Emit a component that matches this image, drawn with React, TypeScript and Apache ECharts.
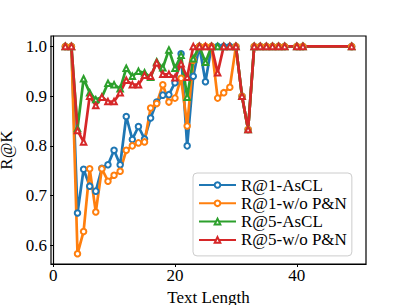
import React, { useEffect, useRef } from "react";
import * as echarts from "echarts";

const lengths = [2, 3, 4, 5, 6, 7, 8, 9, 10, 11, 12, 13, 14, 15, 16, 17, 18, 19, 20, 21, 22, 23, 24, 25, 26, 27, 28, 29, 30, 31, 32, 33, 34, 35, 36, 37, 38, 40, 41, 49];

const r1AsCL = [1.0, 1.0, 0.665, 0.753, 0.719, 0.709, 0.755, 0.762, 0.791, 0.762, 0.859, 0.813, 0.839, 0.814, 0.856, 0.888, 0.902, 0.903, 0.927, 0.985, 0.8, 0.94, 1.0, 0.929, 1.0, 1.0, 1.0, 1.0, 1.0, 0.9, 0.833, 1.0, 1.0, 1.0, 1.0, 1.0, 1.0, 1.0, 1.0, 1.0];
const r1WoPN = [1.0, 1.0, 0.583, 0.628, 0.754, 0.667, 0.754, 0.729, 0.741, 0.749, 0.791, 0.8, 0.806, 0.808, 0.876, 0.885, 0.923, 0.888, 0.896, 0.936, 0.84, 0.972, 1.0, 1.0, 1.0, 0.896, 0.907, 0.918, 1.0, 0.9, 0.833, 1.0, 1.0, 1.0, 1.0, 1.0, 1.0, 1.0, 1.0, 1.0];
const r5AsCL = [1.0, 1.0, 0.835, 0.935, 0.907, 0.893, 0.898, 0.926, 0.923, 0.915, 0.956, 0.94, 0.95, 0.947, 0.938, 0.969, 0.957, 0.993, 0.956, 0.982, 0.898, 0.975, 1.0, 0.968, 1.0, 1.0, 1.0, 1.0, 1.0, 0.9, 0.833, 1.0, 1.0, 1.0, 1.0, 1.0, 1.0, 1.0, 1.0, 1.0];
const r5WoPN = [1.0, 1.0, 0.831, 0.808, 0.9, 0.881, 0.898, 0.889, 0.889, 0.907, 0.932, 0.923, 0.923, 0.942, 0.94, 0.967, 0.944, 0.944, 0.937, 0.965, 0.938, 1.0, 1.0, 1.0, 1.0, 0.947, 1.0, 1.0, 1.0, 0.9, 0.833, 1.0, 1.0, 1.0, 1.0, 1.0, 1.0, 1.0, 1.0, 1.0];

const seriesNames = ["R@1-AsCL", "R@1-w/o P&N", "R@5-AsCL", "R@5-w/o P&N"];
const seriesValues = [r1AsCL, r1WoPN, r5AsCL, r5WoPN];
const seriesColors = ["#1f77b4", "#ff7f0e", "#2ca02c", "#d62728"];
const seriesSymbols = ["emptyCircle", "emptyCircle", "emptyTriangle", "emptyTriangle"];

const xRange = [-0.35, 51.35];
const yRange = [0.5625, 1.0209];

const FONT = "Liberation Serif";

export default function App() {
  const ref = useRef<HTMLDivElement>(null);
  useEffect(() => {
    if (!ref.current) return;
    const chart = echarts.init(ref.current, null, { renderer: "svg" });
    const series = seriesNames.map((name, i) => ({
      name,
      type: "line",
      data: lengths.map((x, j) => [x, seriesValues[i][j]]),
      symbol: seriesSymbols[i],
      symbolSize: 5.5,
      showAllSymbol: true,
      color: seriesColors[i],
      lineStyle: { width: 2.7, color: seriesColors[i] },
      itemStyle: { color: seriesColors[i], borderWidth: 1 },
    }));
    chart.setOption({
      animation: false,
      textStyle: { fontFamily: FONT, fontSize: 17, color: "#000" },
      grid: {
        left: 51,
        top: 36,
        width: 315,
        height: 228,
        containLabel: false,
        outerBoundsMode: "none",
        show: true,
        borderColor: "#000",
        borderWidth: 1.2,
      },
      legend: {
        orient: "vertical",
        left: 193,
        top: 173,
        itemWidth: 37,
        itemHeight: 7,
        itemGap: 0.3,
        padding: [3, 5, 7, 5],
        backgroundColor: "rgba(255,255,255,0.8)",
        borderColor: "#cccccc",
        borderWidth: 1,
        borderRadius: 4,
        textStyle: { fontFamily: FONT, fontSize: 17, color: "#000", lineHeight: 18 },
        data: seriesNames,
      },
      xAxis: {
        type: "value",
        min: xRange[0],
        max: xRange[1],
        splitNumber: 3,
        name: "Text Length",
        nameLocation: "middle",
        nameGap: 16,
        nameTextStyle: { fontFamily: FONT, fontSize: 17, color: "#000" },
        splitLine: { show: false },
        axisLine: { show: true, lineStyle: { color: "#000", width: 1.2 } },
        axisTick: { show: true, length: 3, lineStyle: { color: "#000" } },
        axisLabel: {
          showMinLabel: false,
          showMaxLabel: false,
          margin: 3,
          fontFamily: FONT,
          fontSize: 17,
          color: "#000",
          formatter: (v: number) => String(Math.round(v)),
        },
      },
      yAxis: {
        type: "value",
        min: yRange[0],
        max: yRange[1],
        splitNumber: 5,
        name: "R@K",
        nameLocation: "middle",
        nameGap: 33,
        nameTextStyle: { fontFamily: FONT, fontSize: 17, color: "#000" },
        splitLine: { show: false },
        axisLine: { show: true, lineStyle: { color: "#000", width: 1.2 } },
        axisTick: { show: true, length: 3, lineStyle: { color: "#000" } },
        axisLabel: {
          showMinLabel: false,
          showMaxLabel: false,
          margin: 4,
          fontFamily: FONT,
          fontSize: 17,
          color: "#000",
          formatter: (v: number) => v.toFixed(1),
        },
      },
      series,
    });
    return () => chart.dispose();
  }, []);
  return (
    <div
      ref={ref}
      style={{ position: "fixed", left: 0, top: 0, width: 407, height: 305, background: "#fff" }}
    />
  );
}
